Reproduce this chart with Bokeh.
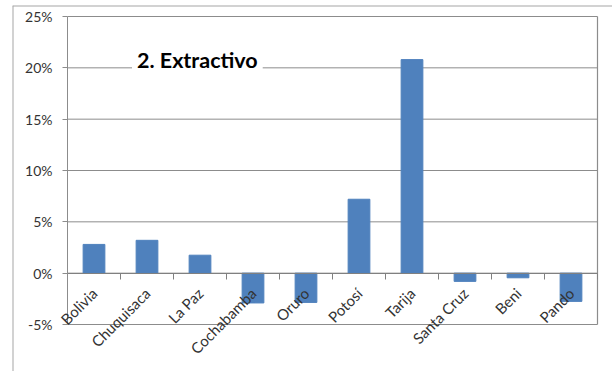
import math
from bokeh.plotting import figure
from bokeh.models import (ColumnDataSource, FixedTicker, NumeralTickFormatter, Range1d,
                          Label, LabelSet, Span)
from bokeh.core.properties import value
from bokeh.embed import file_html
from bokeh.resources import INLINE

categories = ["Bolivia", "Chuquisaca", "La Paz", "Cochabamba", "Oruro",
              "Potosí", "Tarija", "Santa Cruz", "Beni", "Pando"]
values = [0.028, 0.032, 0.0175, -0.029, -0.0285, 0.072, 0.208, -0.008, -0.0045, -0.0275]
y_ticks = [-0.05, 0.0, 0.05, 0.10, 0.15, 0.20, 0.25]
title_text = "2. Extractivo"

n = len(categories)
xs = list(range(n))
src = ColumnDataSource(dict(x=xs, top=values, name=categories, zero=[0.0] * n))

FONT = "Lato"
GRID = "#8c8c8c"
FRAME = "#a6a6a6"

# Layout (pixels): the frame covers the whole chart area (from the outer chart
# border inwards); the plot area (-0.5..n-0.5, -5%..25%) sits inside it.
frame_w, frame_h = 600, 366
px_per_cat = 53.0                       # 530 px plot area / 10 categories
px_per_unit = 308.0 / (y_ticks[-1] - y_ticks[0])
x_start = -0.5 - 55.0 / px_per_cat
x_end = x_start + frame_w / px_per_cat
y_end = y_ticks[-1] + 11.0 / px_per_unit
y_start = y_end - frame_h / px_per_unit

p = figure(frame_width=frame_w, frame_height=frame_h, output_backend="svg",
           toolbar_location=None,
           x_range=Range1d(x_start, x_end), y_range=Range1d(y_start, y_end),
           min_border_left=12, min_border_right=0, min_border_top=5, min_border_bottom=0)

p.background_fill_color = "white"
p.border_fill_color = "white"
p.outline_line_color = None

# outer chart border (left and top edges of the chart area)
p.add_layout(Span(location=x_start, dimension="height", line_color=FRAME, line_width=2))
p.add_layout(Span(location=y_end, dimension="width", line_color=FRAME, line_width=2))

# gridlines and plot-area border
p.xgrid.grid_line_color = None
p.ygrid.grid_line_color = None
p.segment(x0=[-0.5] * len(y_ticks), x1=[n - 0.5] * len(y_ticks), y0=y_ticks, y1=y_ticks,
          line_color=GRID, line_width=1)
p.segment(x0=[n - 0.5], y0=[y_ticks[0]], x1=[n - 0.5], y1=[y_ticks[-1]],
          line_color=GRID, line_width=1.2)

p.vbar(x="x", top="top", bottom="zero", width=0.41, source=src,
       fill_color="#4F81BD", line_color="#4F81BD")

# y axis, placed at the left edge of the plot area
p.yaxis.fixed_location = -0.5
p.yaxis.bounds = (y_ticks[0], y_ticks[-1])
p.yaxis.ticker = FixedTicker(ticks=y_ticks)
p.yaxis.formatter = NumeralTickFormatter(format="0%")
p.yaxis.axis_line_color = GRID
p.yaxis.major_tick_line_color = GRID
p.yaxis.major_tick_out = 5
p.yaxis.major_tick_in = 0
p.yaxis.minor_tick_line_color = None
p.yaxis.major_label_text_font = FONT
p.yaxis.major_label_text_font_size = "14px"
p.yaxis.major_label_text_color = "#333333"
p.yaxis.major_label_standoff = 10

# x axis at zero: tick marks at category boundaries (labels drawn below)
p.xaxis.fixed_location = 0
p.xaxis.bounds = (-0.5, n - 0.5)
p.xaxis.ticker = FixedTicker(ticks=[], minor_ticks=[i - 0.5 for i in range(n + 1)])
p.xaxis.axis_line_color = "#808080"
p.xaxis.major_tick_line_color = None
p.xaxis.minor_tick_line_color = "#808080"
p.xaxis.minor_tick_out = 6
p.xaxis.minor_tick_in = 0

labels = LabelSet(x="x", y="zero", text="name", source=src, angle=math.pi / 4,
                  text_align="right", text_baseline="top", x_offset=-6, y_offset=-11,
                  text_font=value(FONT), text_font_size=value("15px"), text_color="#333333")
p.add_layout(labels)

title = Label(x=1.95, y=0.208, text=title_text, text_align="center", text_baseline="middle",
              text_font=FONT, text_font_style="bold", text_font_size="21.5px",
              text_color="#000000", background_fill_color="white", padding=5)
p.add_layout(title)

open("out.html", "w").write(file_html(p, INLINE))
